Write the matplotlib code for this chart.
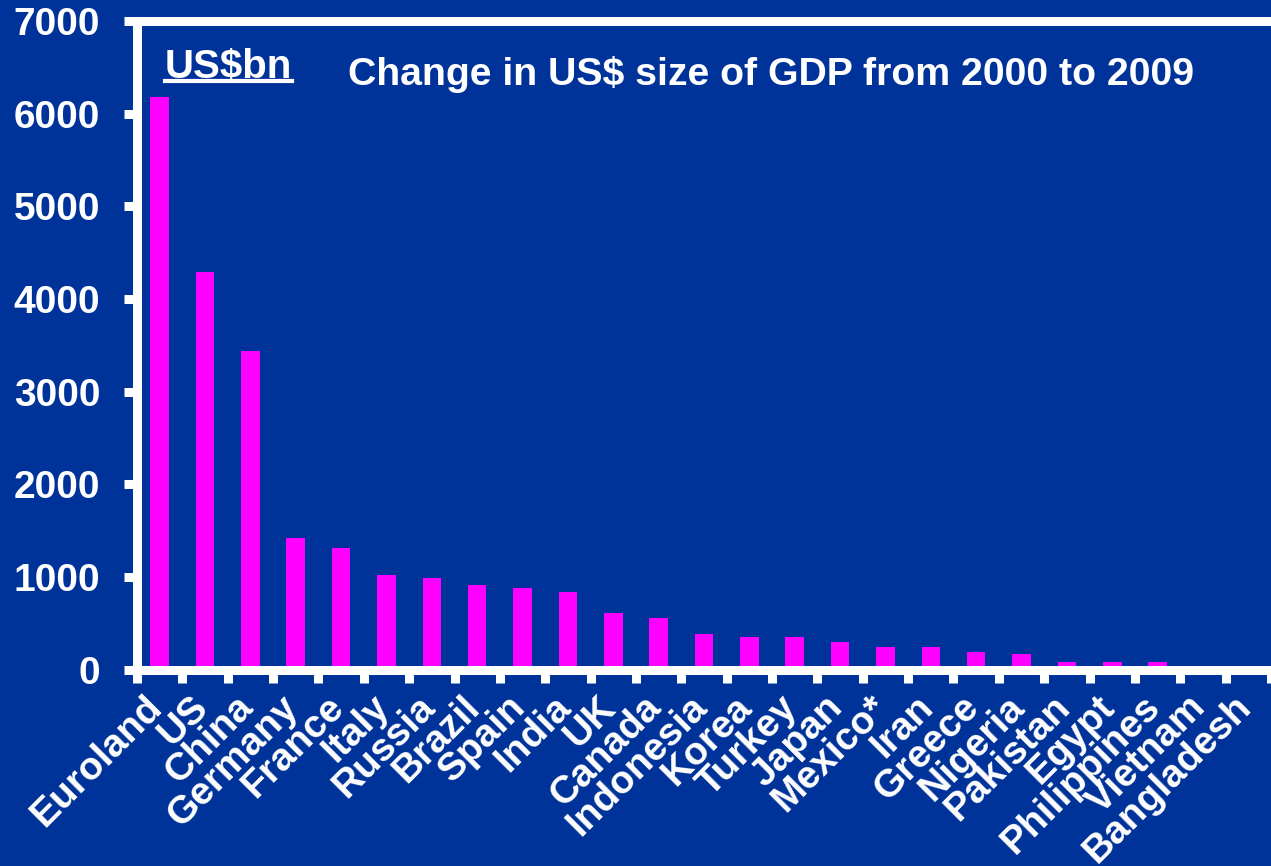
import matplotlib
matplotlib.use("Agg")
import matplotlib.pyplot as plt
import matplotlib.transforms as mtransforms
from matplotlib.lines import Line2D
import numpy as np

countries = ["Euroland", "US", "China", "Germany", "France", "Italy", "Russia",
             "Brazil", "Spain", "India", "UK", "Canada", "Indonesia", "Korea",
             "Turkey", "Japan", "Mexico*", "Iran", "Greece", "Nigeria",
             "Pakistan", "Egypt", "Philippines", "Vietnam", "Bangladesh"]
gdp_change = [6180, 4290, 3435, 1415, 1307, 1015, 986, 907, 878, 832, 615, 561,
              378, 346, 346, 292, 238, 238, 187, 162, 83, 83, 83, 0, 0]
yticks = [0, 1000, 2000, 3000, 4000, 5000, 6000, 7000]

BG = "#003399"
BAR = "#FF00FF"
FONT = "Liberation Sans"

plt.rcParams['font.family'] = [FONT, 'DejaVu Sans']

fig = plt.figure(figsize=(12.71, 8.66), dpi=100, facecolor=BG)
ax = fig.add_axes([137/1271, 1 - 669.5/866, 1 - 137/1271, (669.5 - 21)/866])
ax.set_facecolor(BG)

x = np.arange(len(countries))
ax.bar(x, gdp_change, width=0.41, color=BAR, zorder=2)

ax.set_ylim(0, 7000)
ax.set_xlim(-0.5, 24.22)

ax.set_yticks(yticks)
ax.set_yticklabels([str(v) for v in yticks], fontsize=28, fontweight='bold',
                   color='white')
ax.set_xticks(x)
ax.set_xticklabels(countries, fontsize=28, fontweight='bold', color='white',
                   rotation=45, ha='right', va='top')
# minor ticks at category boundaries, major ticks (labels) without marks
ax.set_xticks(np.arange(len(countries) + 1) - 0.5, minor=True)
ax.tick_params(axis='x', which='major', length=0, pad=14)
ax.tick_params(axis='x', which='minor', length=9.5, width=6.5, color='white',
               direction='out')
ax.tick_params(axis='y', length=9.5, width=6.5, color='white', pad=17,
               direction='out')

offset = mtransforms.ScaledTranslation(10/100, 0, fig.dpi_scale_trans)
for lab in ax.get_xticklabels():
    lab.set_transform(lab.get_transform() + offset)

for side in ['left', 'bottom', 'top']:
    ax.spines[side].set_color('white')
    ax.spines[side].set_linewidth(6.5)
ax.spines['right'].set_visible(False)

ax.text(0.0247, 0.912, "US$bn", transform=ax.transAxes, fontsize=29,
        fontweight='bold', color='white', ha='left', va='baseline')
ax.add_line(Line2D([0.0247, 0.0247 + 127/1134], [0.9075, 0.9075],
                   transform=ax.transAxes, color='white', linewidth=3,
                   clip_on=False))
ax.text((348 - 137)/1134, (669.5 - 85)/648.5,
        "Change in US$ size of GDP from 2000 to 2009",
        transform=ax.transAxes, fontsize=28.3, fontweight='bold', color='white',
        ha='left', va='baseline')

fig.savefig("out.png", dpi=100, facecolor=BG)
